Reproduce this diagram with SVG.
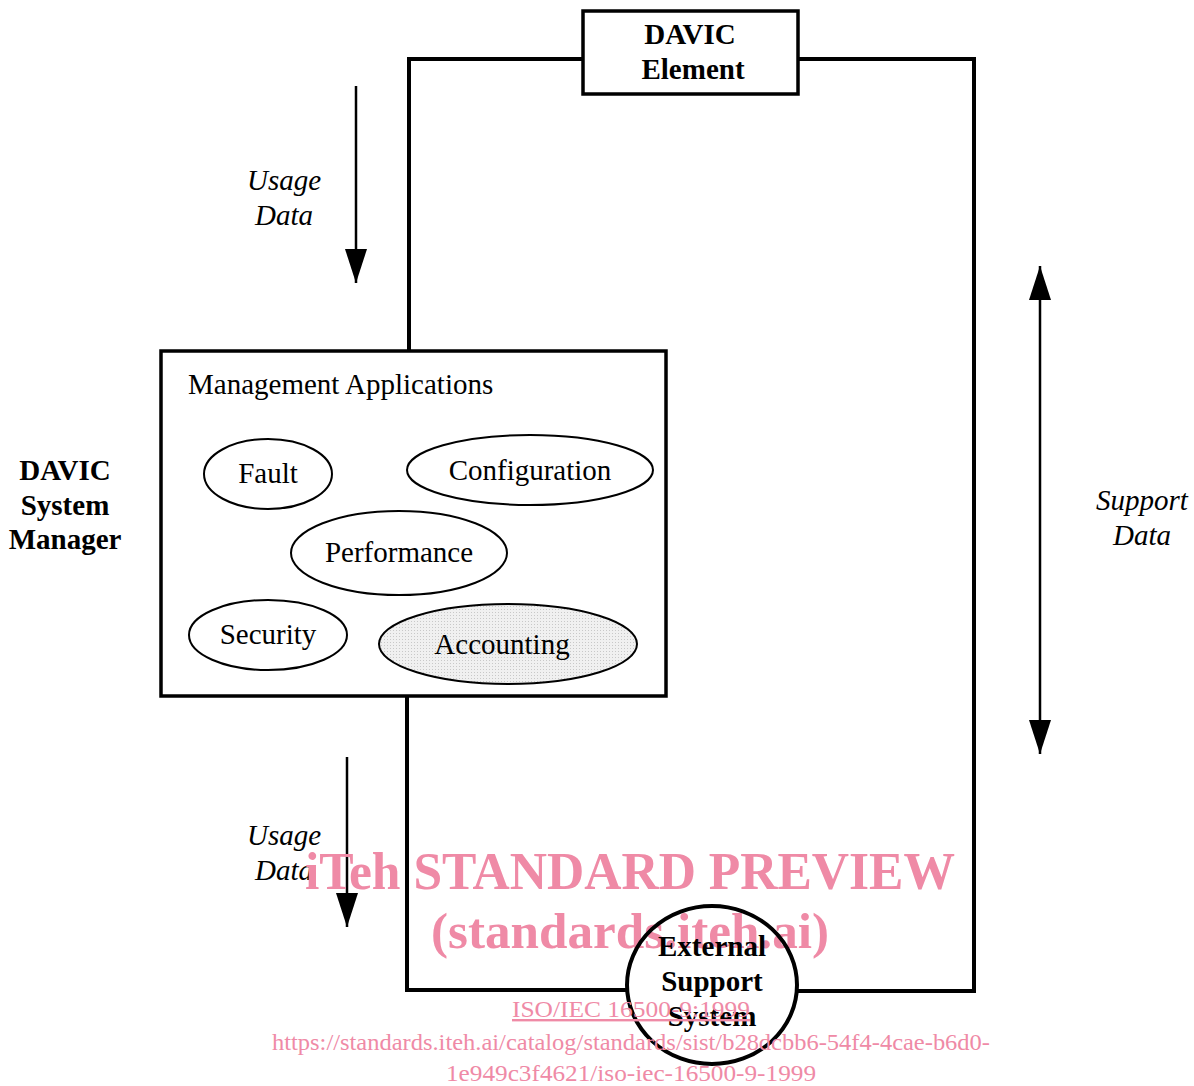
<svg xmlns="http://www.w3.org/2000/svg" width="1194" height="1086" viewBox="0 0 1194 1086">
<style>
.ln{fill:none;stroke:#000;stroke-width:4}
.box{fill:#fff;stroke:#000;stroke-width:3.5}
.el{fill:#fff;stroke:#000;stroke-width:2}
.ar{stroke:#000;stroke-width:2.5;fill:none}
.t{font-family:"Liberation Serif",serif;font-size:29px;fill:#000}
.b{font-weight:bold}
.i{font-style:italic}
.wm{font-family:"Liberation Serif",serif;fill:#ef8aa6}
</style>
<defs>
<marker id="ah" viewBox="0 0 34 22" refX="34" refY="11" markerWidth="34" markerHeight="22" markerUnits="userSpaceOnUse" orient="auto-start-reverse">
<path d="M0,0 L34,11 L0,22 Z" fill="#000"/>
</marker>
<pattern id="dots" width="3" height="3" patternUnits="userSpaceOnUse">
<rect width="3" height="3" fill="#f0f0f0"/>
<rect width="1" height="1" fill="#c8c8c8"/>
</pattern>
</defs>
<g id="connectors">
<polyline class="ln" points="409,351 409,59 583,59"/>
<polyline class="ln" points="798,59 974,59 974,991 797,991"/>
<polyline class="ln" points="407,696 407,990 627,990"/>
<line class="ar" x1="356" y1="86" x2="356" y2="283" marker-end="url(#ah)"/>
<line class="ar" x1="347" y1="757" x2="347" y2="927" marker-end="url(#ah)"/>
<line class="ar" x1="1040" y1="266" x2="1040" y2="754" marker-start="url(#ah)" marker-end="url(#ah)"/>
</g>
<g id="davic-element">
<rect class="box" x="583" y="11" width="215" height="83"/>
<text class="t b" x="690" y="44" text-anchor="middle">DAVIC</text>
<text class="t b" x="693" y="79" text-anchor="middle">Element</text>
</g>
<g id="system-manager">
<rect class="box" x="161" y="351" width="505" height="345"/>
<text class="t" x="188" y="394">Management Applications</text>
</g>
<g id="manager-label">
<text class="t b" x="65" y="480" text-anchor="middle">DAVIC</text>
<text class="t b" x="65" y="515" text-anchor="middle">System</text>
<text class="t b" x="65" y="549" text-anchor="middle">Manager</text>
</g>
<g id="fault">
<ellipse class="el" cx="268" cy="474" rx="64" ry="35"/>
<text class="t" x="268" y="483" text-anchor="middle">Fault</text>
</g>
<g id="configuration">
<ellipse class="el" cx="530" cy="470" rx="123" ry="35"/>
<text class="t" x="530" y="480" text-anchor="middle">Configuration</text>
</g>
<g id="performance">
<ellipse class="el" cx="399" cy="553" rx="108" ry="42"/>
<text class="t" x="399" y="562" text-anchor="middle">Performance</text>
</g>
<g id="security">
<ellipse class="el" cx="268" cy="635" rx="79" ry="35"/>
<text class="t" x="268" y="644" text-anchor="middle">Security</text>
</g>
<g id="accounting">
<ellipse cx="508" cy="644" rx="129" ry="40" fill="url(#dots)" stroke="#000" stroke-width="2"/>
<text class="t" x="502" y="654" text-anchor="middle">Accounting</text>
</g>
<g id="labels">
<text class="t i" x="284" y="190" text-anchor="middle">Usage</text>
<text class="t i" x="284" y="225" text-anchor="middle">Data</text>
<text class="t i" x="1142" y="510" text-anchor="middle">Support</text>
<text class="t i" x="1142" y="545" text-anchor="middle">Data</text>
<text class="t i" x="284" y="845" text-anchor="middle">Usage</text>
<text class="t i" x="284" y="880" text-anchor="middle">Data</text>
</g>
<g id="watermark-top">
<text class="wm" x="630" y="889" text-anchor="middle" font-size="52" font-weight="bold" textLength="650" lengthAdjust="spacingAndGlyphs">iTeh STANDARD PREVIEW</text>
<text class="wm" x="630" y="948" text-anchor="middle" font-size="50" font-weight="bold" textLength="398" lengthAdjust="spacingAndGlyphs">(standards.iteh.ai)</text>
</g>
<g id="external-support">
<ellipse cx="712" cy="985" rx="85" ry="79" fill="none" stroke="#000" stroke-width="4"/>
<text class="t b" x="712" y="956" text-anchor="middle">External</text>
<text class="t b" x="712" y="991" text-anchor="middle">Support</text>
<text class="t b" x="712" y="1026" text-anchor="middle">System</text>
</g>
<g id="watermark-bottom">
<text class="wm" x="631" y="1017" text-anchor="middle" font-size="24" text-decoration="underline" textLength="238" lengthAdjust="spacingAndGlyphs">ISO/IEC 16500-9:1999</text>
<text class="wm" x="631" y="1050" text-anchor="middle" font-size="24" textLength="718" lengthAdjust="spacingAndGlyphs">https://standards.iteh.ai/catalog/standards/sist/b28dcbb6-54f4-4cae-b6d0-</text>
<text class="wm" x="631" y="1081" text-anchor="middle" font-size="24" textLength="370" lengthAdjust="spacingAndGlyphs">1e949c3f4621/iso-iec-16500-9-1999</text>
</g>
</svg>
